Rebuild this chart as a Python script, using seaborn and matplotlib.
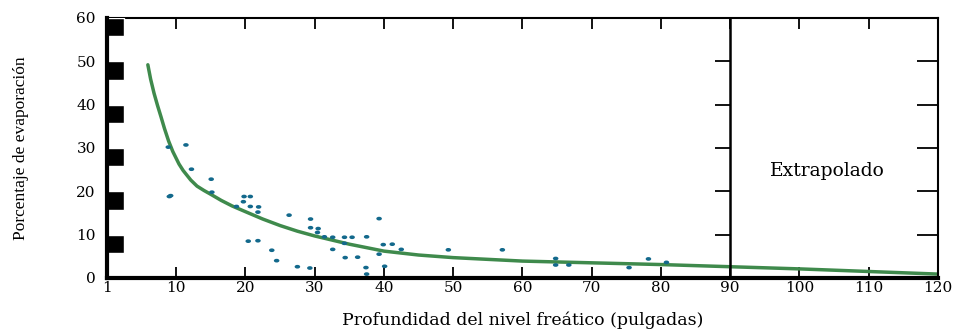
import matplotlib
matplotlib.use("Agg")
import matplotlib.pyplot as plt
import seaborn as sns
import pandas as pd
from matplotlib.path import Path
from matplotlib.transforms import Affine2D

# datos medidos (puntos)
prof = [8.85, 11.4, 12.2, 15.05, 15.15, 9.0, 9.2, 18.7, 19.7, 19.8, 20.7, 20.7,
        21.9, 21.8, 20.4, 21.8, 23.8, 24.5, 26.3, 27.5, 29.4, 29.4, 29.3, 30.5,
        30.4, 31.4, 32.6, 32.6, 34.3, 34.3, 35.4, 34.4, 36.2, 37.5, 37.4, 37.5,
        39.3, 39.3, 39.9, 40.1, 41.2, 42.5, 49.3, 57.1, 64.8, 64.8, 66.7, 75.4,
        78.2, 80.8]
evap = [30.2, 30.7, 25.1, 22.8, 19.8, 18.8, 19.0, 16.5, 17.6, 18.8, 18.8, 16.5,
        16.4, 15.2, 8.5, 8.6, 6.4, 4.0, 14.5, 2.6, 13.6, 11.6, 2.3, 11.4,
        10.5, 9.5, 9.4, 6.6, 9.4, 8.0, 9.4, 4.7, 4.8, 9.5, 2.4, 0.9,
        13.7, 5.5, 7.7, 2.7, 7.8, 6.6, 6.5, 6.5, 4.5, 3.0, 3.0, 2.4,
        4.4, 3.6]

# curva ajustada
curva_x = [5.9, 6.3, 6.8, 7.3, 7.8, 8.3, 8.9, 9.5, 10.4, 11.0, 12.1, 13.0, 14.0,
           15.0, 16.5, 18.1, 20, 22.5, 25, 27.5, 30, 35, 40, 45, 50, 60, 70, 80,
           90, 100, 110, 120]
curva_y = [49.2, 45.9, 42.6, 39.8, 37.2, 34.5, 31.6, 29.2, 26.3, 24.8, 22.6, 21.2, 20.2,
           19.3, 17.9, 16.6, 15.3, 13.6, 12.1, 10.8, 9.7, 7.8, 6.2, 5.3, 4.7, 3.9, 3.5, 3.1,
           2.6, 2.1, 1.5, 0.9]

xticks = [0, 10, 20, 30, 40, 50, 60, 70, 80, 90, 100, 110, 120]
xlabels = ["1", "10", "20", "30", "40", "50", "60", "70", "80", "90", "100", "110", "120"]
yticks = [0, 10, 20, 30, 40, 50, 60]

df_pts = pd.DataFrame({"x": prof, "y": evap})
df_cur = pd.DataFrame({"x": curva_x, "y": curva_y})

sns.set_style("ticks")
plt.rcParams["font.family"] = ["DejaVu Serif"]
plt.rcParams["text.color"] = "black"
plt.rcParams["axes.labelcolor"] = "black"
plt.rcParams["xtick.color"] = "black"
plt.rcParams["ytick.color"] = "black"
plt.rcParams["axes.edgecolor"] = "black"

fig = plt.figure(figsize=(9.57, 3.33), dpi=100)
ax = fig.add_axes([0.1118, 0.1652, 0.980 - 0.1118, 0.946 - 0.1652])

sns.lineplot(data=df_cur, x="x", y="y", ax=ax, color="#3f8a4c", linewidth=2.5)

elipse = Path.unit_circle().transformed(Affine2D().scale(1.5, 1.0))
sns.scatterplot(data=df_pts, x="x", y="y", ax=ax, marker=elipse, s=16,
                color="#13698c", edgecolor="none", zorder=4)

# bloques negros en el eje y
ax.barh(y=yticks[1:], width=2.4, height=-4.2, left=0, align="edge",
        color="black", zorder=5)

# linea de extrapolacion
ax.axvline(90, color="black", linewidth=1.8, zorder=3)
ax.hlines(yticks[1:-1], 90 - 2.2, 90, color="black", linewidth=1.3)
ax.text(104, 24.7, "Extrapolado", ha="center", va="center", fontsize=13.5)

ax.set_xlim(0, 120)
ax.set_ylim(0, 60)
ax.set_xticks(xticks)
ax.set_xticklabels(xlabels)
ax.set_yticks(yticks)
ax.tick_params(axis="x", direction="in", top=True, bottom=True, length=8,
               width=1.3, labelsize=11, pad=2)
ax.tick_params(axis="y", direction="in", left=False, right=True, length=15,
               width=1.3, labelsize=11, pad=8)

for side in ["top", "right"]:
    ax.spines[side].set_linewidth(1.5)
for side in ["left", "bottom"]:
    ax.spines[side].set_linewidth(3)
    ax.spines[side].set_zorder(6)

ax.set_xlabel("Profundidad del nivel freático (pulgadas)", fontsize=12.5, labelpad=12)
ax.set_ylabel("Porcentaje de evaporación", fontsize=12.5, labelpad=34,
              family=["Liberation Serif"])

fig.savefig("out.png", dpi=100)
